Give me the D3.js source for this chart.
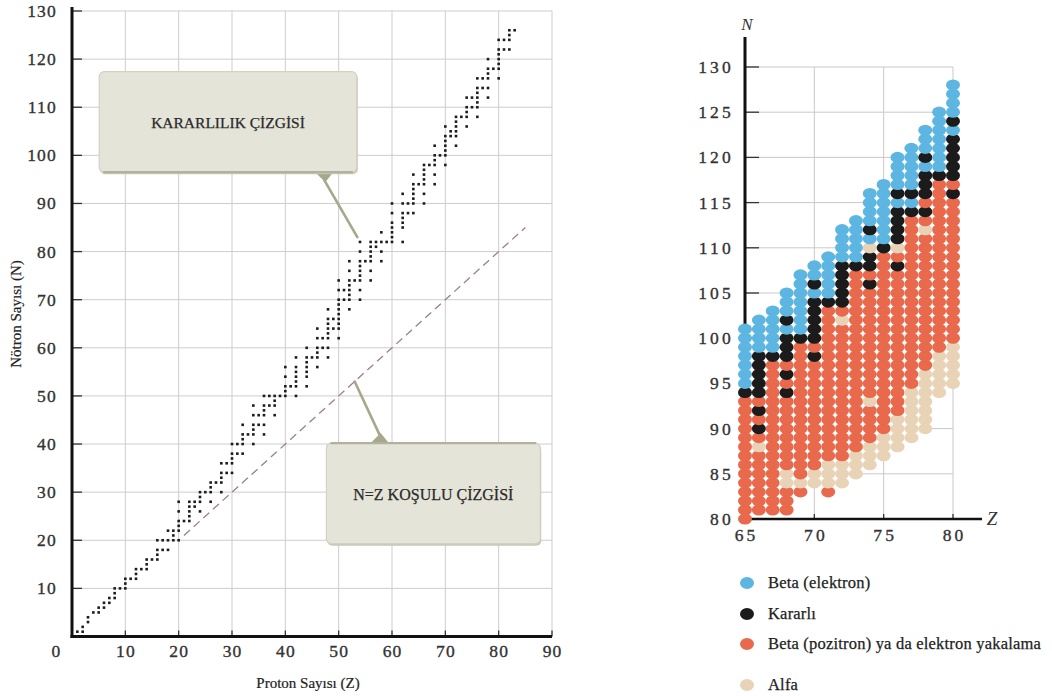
<!DOCTYPE html>
<html>
<head>
<meta charset="utf-8">
<script src="https://cdn.jsdelivr.net/npm/d3@7/dist/d3.min.js"></script>
<style>
  body { margin: 0; background: #fff; }
  svg { display: block; }
</style>
</head>
<body>
<svg id="chart" width="1052" height="696"></svg>
<script>
// ---- left panel: stable nuclides (one list of N per Z = 1..83)
const protonNumbers = d3.range(1, 84);
const stableNeutrons = [
  [0,1],[1,2],[3,4],[5],[5,6],[6,7],[7,8],[8,9,10],[10],[10,11,12],
  [12],[12,13,14],[14],[14,15,16],[16],[16,17,18,20],[18,20],[18,20,22],[20,21,22],[20,22,23,24,26,28],
  [24],[24,25,26,27,28],[27,28],[26,28,29,30],[30],[28,30,31,32],[32],[30,32,33,34,36],[34,36],[34,36,37,38,40],
  [38,40],[38,40,41,42,44],[42],[40,42,43,44,46,48],[44,46],[42,44,46,47,48,50],[48,50],[46,48,49,50],[50],[50,51,52,54,56],
  [52],[50,52,53,54,55,56,58],[],[52,54,55,56,57,58,60],[58],[56,58,59,60,62,64],[60,62],[58,60,62,63,64,65,66,68],[64,66],[62,64,65,66,67,68,69,70,72,74],
  [70,72],[68,70,71,72,73,74,76,78],[74],[70,72,74,75,76,77,78,80,82],[78],[74,76,78,79,80,81,82],[81,82],[78,80,82,84],[82],[82,83,84,85,86,88,90],
  [],[82,85,86,87,88,90,92],[88,90],[88,90,91,92,93,94,96],[94],[90,92,94,95,96,97,98],[98],[94,96,98,99,100,102],[100],[98,100,101,102,103,104,106],
  [104,105],[102,104,105,106,107,108],[108],[106,108,109,110,112],[110,112],[108,110,111,112,113,114,116],[114,116],[112,114,116,117,118,120],[118],[116,118,119,120,121,122,124],
  [122,124],[122,124,125,126],[126]
];
const leftTicksZ = [0,10,20,30,40,50,60,70,80,90];
const leftTicksN = [10,20,30,40,50,60,70,80,90,100,110,120,130];
const equalLine = [21, 85];   // N = Z from .. to
const callouts = [
  { text: "KARARLILIK ÇİZGİSİ", z0: 5.1, z1: 53.4, n0: 96.5, n1: 117.4, tipZ: 53.5, tipN: 83, baseZ: 47.3, side: "bottom", size: 15.5 },
  { text: "N=Z KOŞULU ÇİZGİSİ", z0: 47.7, z1: 87.8, n0: 19.3, n1: 40.2, tipZ: 53, tipN: 53, baseZ: 57.7, side: "top", size: 16 }
];

// ---- right panel: decay modes, Z = 65..80
const chartZ = d3.range(65, 81);
const lowestN  = [80,81,81,81,83,84,83,84,85,86,87,88,89,90,94,95];
const highestN = [101,102,103,105,107,108,109,112,113,116,117,120,121,123,125,128];
const betaMinusFrom = [95,99,99,101,101,105,105,109,109,111,111,115,115,119,119,123];
const kararliN = [[94],[90,92,94,95,96,97,98],[98],[94,96,98,99,100,102],[100],[98,100,101,102,103,104,106],[104],
  [104,105,106,107,108],[108],[106,108,109,112],[110],[108,111,112,113,114,116],[114,116],[114,116,117,118,120],[118],
  [116,118,119,120,121,122,124]];
const alfaN = [[],[88],[],[84,85],[84],[84,85],[84,85,86],[84,85,86,102],[85,86,87],[86,87,88,93,110],[87,88,89],
  [88,89,90,91,110],[89,90,91,92,93,94],[90,91,92,93,94,95,96,112],[94,95,96,97,98],[95,96,97,98,99]];
const rightTicksZ = [65,70,75,80];
const rightTicksN = [80,85,90,95,100,105,110,115,120,125,130];

const decayKeys = ["beta-", "kararli", "beta+", "alfa"];
const decayLabels = ["Beta (elektron)", "Kararlı", "Beta (pozitron) ya da elektron yakalama", "Alfa"];
const decayColors = ["#5db6e2", "#1b1b1b", "#e8694b", "#e8d3b6"];

const svg = d3.select("#chart");
const textFont = "'Liberation Serif', 'Times New Roman', serif";

// slightly heavier serif text, like the printed figure
function inked(sel, colour, w) {
  return sel.attr("fill", colour).attr("stroke", colour).attr("stroke-width", w);
}

// ================= left chart =================
const xL = d3.scaleLinear().domain([0, 90]).range([72, 552]);
const yL = d3.scaleLinear().domain([0, 130]).range([636.5, 11]);
const left = svg.append("g");

left.selectAll(".vgrid").data(leftTicksZ.slice(1)).enter().append("line")
  .attr("x1", d => xL(d)).attr("x2", d => xL(d))
  .attr("y1", yL(130)).attr("y2", yL(0))
  .attr("stroke", "#cdcdcd").attr("stroke-width", 1);
left.selectAll(".hgrid").data(leftTicksN).enter().append("line")
  .attr("x1", xL(0)).attr("x2", xL(90))
  .attr("y1", d => yL(d)).attr("y2", d => yL(d))
  .attr("stroke", "#cdcdcd").attr("stroke-width", 1);

// tick marks
left.selectAll(".xt").data(leftTicksZ.slice(1)).enter().append("line")
  .attr("x1", d => xL(d)).attr("x2", d => xL(d))
  .attr("y1", yL(0)).attr("y2", yL(0) - 6)
  .attr("stroke", "#333").attr("stroke-width", 1.3);
left.selectAll(".yt").data(leftTicksN).enter().append("line")
  .attr("x1", xL(0)).attr("x2", xL(0) + 10)
  .attr("y1", d => yL(d)).attr("y2", d => yL(d))
  .attr("stroke", "#333").attr("stroke-width", 1.3);

// axes
left.append("line").attr("x1", xL(0)).attr("x2", xL(0)).attr("y1", 7).attr("y2", yL(0) + 1.5)
  .attr("stroke", "#111").attr("stroke-width", 3);
left.append("line").attr("x1", xL(0) - 1.5).attr("x2", xL(90)).attr("y1", yL(0)).attr("y2", yL(0))
  .attr("stroke", "#111").attr("stroke-width", 3);

inked(left.selectAll(".xl").data(leftTicksZ).enter().append("text")
  .attr("x", d => (d === 0 ? xL(0) - 16 : xL(d)) + 0.6)
  .attr("y", 657)
  .attr("text-anchor", "middle").attr("letter-spacing", 1.2)
  .attr("font-family", textFont).attr("font-size", 17.5), "#333", 0.35)
  .text(d => d);
inked(left.selectAll(".yl").data(leftTicksN).enter().append("text")
  .attr("x", 57).attr("y", d => yL(d))
  .attr("dy", "0.34em")
  .attr("text-anchor", "end").attr("letter-spacing", 1.2)
  .attr("font-family", textFont).attr("font-size", 17.5), "#333", 0.35)
  .text(d => d);

inked(left.append("text").attr("x", 308).attr("y", 688).attr("text-anchor", "middle")
  .attr("font-family", textFont).attr("font-size", 15), "#222", 0.2)
  .text("Proton Sayısı (Z)");
inked(left.append("text").attr("transform", "translate(21,314) rotate(-90)").attr("text-anchor", "middle")
  .attr("font-family", textFont).attr("font-size", 15), "#222", 0.2)
  .text("Nötron Sayısı (N)");

// stable nuclide dots
const nuclides = protonNumbers.flatMap((z, i) => stableNeutrons[i].map(n => ({ z, n })));
left.selectAll(".nuc").data(nuclides).enter().append("rect")
  .attr("x", d => xL(d.z) - 1.3).attr("y", d => yL(d.n) - 1.3)
  .attr("width", 2.6).attr("height", 2.6)
  .attr("fill", "#1c1c1c");

// N = Z line
left.append("line")
  .attr("x1", xL(equalLine[0])).attr("y1", yL(equalLine[0]))
  .attr("x2", xL(equalLine[1])).attr("y2", yL(equalLine[1]))
  .attr("stroke", "#9d7f89").attr("stroke-width", 1.3)
  .attr("stroke-dasharray", "8,5");

// callout boxes
callouts.forEach(c => {
  const g = left.append("g");
  const bx0 = xL(c.z0), bx1 = xL(c.z1), by0 = yL(c.n1), by1 = yL(c.n0);
  const edgeY = c.side === "bottom" ? by1 : by0;
  const dir = c.side === "bottom" ? 1 : -1;
  const bxm = xL(c.baseZ);
  g.append("line")
    .attr("x1", bxm).attr("y1", edgeY + dir * 8)
    .attr("x2", xL(c.tipZ)).attr("y2", yL(c.tipN))
    .attr("stroke", "#a7a78c").attr("stroke-width", 2.6).attr("stroke-linecap", "round");
  g.append("path")
    .attr("d", `M${bxm - 9},${edgeY} L${bxm + 9},${edgeY} L${bxm + 1},${edgeY + dir * 10} Z`)
    .attr("fill", "#a7a78c");
  g.append("rect")
    .attr("x", bx0 + 1).attr("y", by0 + 2).attr("width", bx1 - bx0).attr("height", by1 - by0)
    .attr("rx", 5).attr("fill", "#c9c8b4");
  g.append("rect")
    .attr("x", bx0).attr("y", by0).attr("width", bx1 - bx0).attr("height", by1 - by0)
    .attr("rx", 5).attr("fill", "#e5e4d9").attr("stroke", "#d2d1c2").attr("stroke-width", 1.2);
  g.append("line")
    .attr("x1", bx0 + 4).attr("x2", bx1 - 4).attr("y1", edgeY).attr("y2", edgeY)
    .attr("stroke", "#b2b19b").attr("stroke-width", 2.2);
  inked(g.append("text")
    .attr("x", (bx0 + bx1) / 2).attr("y", (by0 + by1) / 2 + 1)
    .attr("dy", "0.35em").attr("text-anchor", "middle")
    .attr("font-family", textFont).attr("font-size", c.size), "#2a2a2a", 0.25)
    .text(c.text);
});

// ================= right chart =================
const xR = d3.scaleLinear().domain([65, 80]).range([745, 953]);
const yR = d3.scaleLinear().domain([80, 130]).range([519, 67]);
const right = svg.append("g");

right.selectAll(".hg").data(rightTicksN.slice(1)).enter().append("line")
  .attr("x1", xR(65)).attr("x2", xR(80))
  .attr("y1", d => yR(d)).attr("y2", d => yR(d))
  .attr("stroke", "#c9c9c9").attr("stroke-width", 1);
right.selectAll(".vg").data(rightTicksZ.slice(1)).enter().append("line")
  .attr("x1", d => xR(d)).attr("x2", d => xR(d))
  .attr("y1", yR(130)).attr("y2", yR(80))
  .attr("stroke", "#c9c9c9").attr("stroke-width", 1);
right.selectAll(".ytR").data(rightTicksN.slice(1)).enter().append("line")
  .attr("x1", xR(65)).attr("x2", xR(65) + 14)
  .attr("y1", d => yR(d)).attr("y2", d => yR(d))
  .attr("stroke", "#333").attr("stroke-width", 1.3);
right.selectAll(".xtR").data(rightTicksZ.slice(1)).enter().append("line")
  .attr("x1", d => xR(d)).attr("x2", d => xR(d))
  .attr("y1", yR(80)).attr("y2", yR(80) - 5)
  .attr("stroke", "#333").attr("stroke-width", 1.3);

right.append("line").attr("x1", xR(65)).attr("x2", xR(65)).attr("y1", 37).attr("y2", yR(80))
  .attr("stroke", "#111").attr("stroke-width", 3);
right.append("line").attr("x1", xR(65)).attr("x2", 982).attr("y1", yR(80)).attr("y2", yR(80))
  .attr("stroke", "#111").attr("stroke-width", 2.5);

inked(right.selectAll(".ylR").data(rightTicksN).enter().append("text")
  .attr("x", 734).attr("y", d => yR(d)).attr("dy", "0.34em")
  .attr("text-anchor", "end").attr("letter-spacing", 3.2)
  .attr("font-family", textFont).attr("font-size", 17.5), "#333", 0.35)
  .text(d => d);
inked(right.selectAll(".xlR").data(rightTicksZ).enter().append("text")
  .attr("x", d => xR(d) + 1.6).attr("y", 541)
  .attr("text-anchor", "middle").attr("letter-spacing", 3.2)
  .attr("font-family", textFont).attr("font-size", 17.5), "#333", 0.35)
  .text(d => d);
right.append("text").attr("x", 747).attr("y", 30).attr("text-anchor", "middle")
  .attr("font-family", textFont).attr("font-style", "italic").attr("font-size", 17).attr("fill", "#333")
  .text("N");
right.append("text").attr("x", 992).attr("y", 525).attr("text-anchor", "middle")
  .attr("font-family", textFont).attr("font-style", "italic").attr("font-size", 19).attr("fill", "#333")
  .text("Z");

function decayMode(i, n) {
  if (alfaN[i].includes(n)) return "alfa";
  if (kararliN[i].includes(n)) return "kararli";
  if (n >= betaMinusFrom[i]) return "beta-";
  return "beta+";
}
const colorScale = d3.scaleOrdinal().domain(decayKeys).range(decayColors);
const cells = chartZ.flatMap((z, i) =>
  d3.range(lowestN[i], highestN[i] + 1).map(n => ({ z, n, mode: decayMode(i, n) })));

right.selectAll(".cell").data(cells).enter().append("ellipse")
  .attr("cx", d => xR(d.z)).attr("cy", d => yR(d.n))
  .attr("rx", 7).attr("ry", 5.6)
  .attr("fill", d => colorScale(d.mode));

// legend
const legendYs = [583, 614, 644, 685];
const legend = right.selectAll(".leg").data(decayKeys).enter().append("g")
  .attr("transform", (d, i) => `translate(0,${legendYs[i]})`);
legend.append("ellipse").attr("cx", 747).attr("cy", 0).attr("rx", 7).attr("ry", 6)
  .attr("fill", d => colorScale(d));
inked(legend.append("text").attr("x", 768).attr("y", 0).attr("dy", "0.33em")
  .attr("font-family", textFont).attr("font-size", 16.5).attr("letter-spacing", 0.2), "#222", 0.25)
  .text((d, i) => decayLabels[i]);
</script>
</body>
</html>
